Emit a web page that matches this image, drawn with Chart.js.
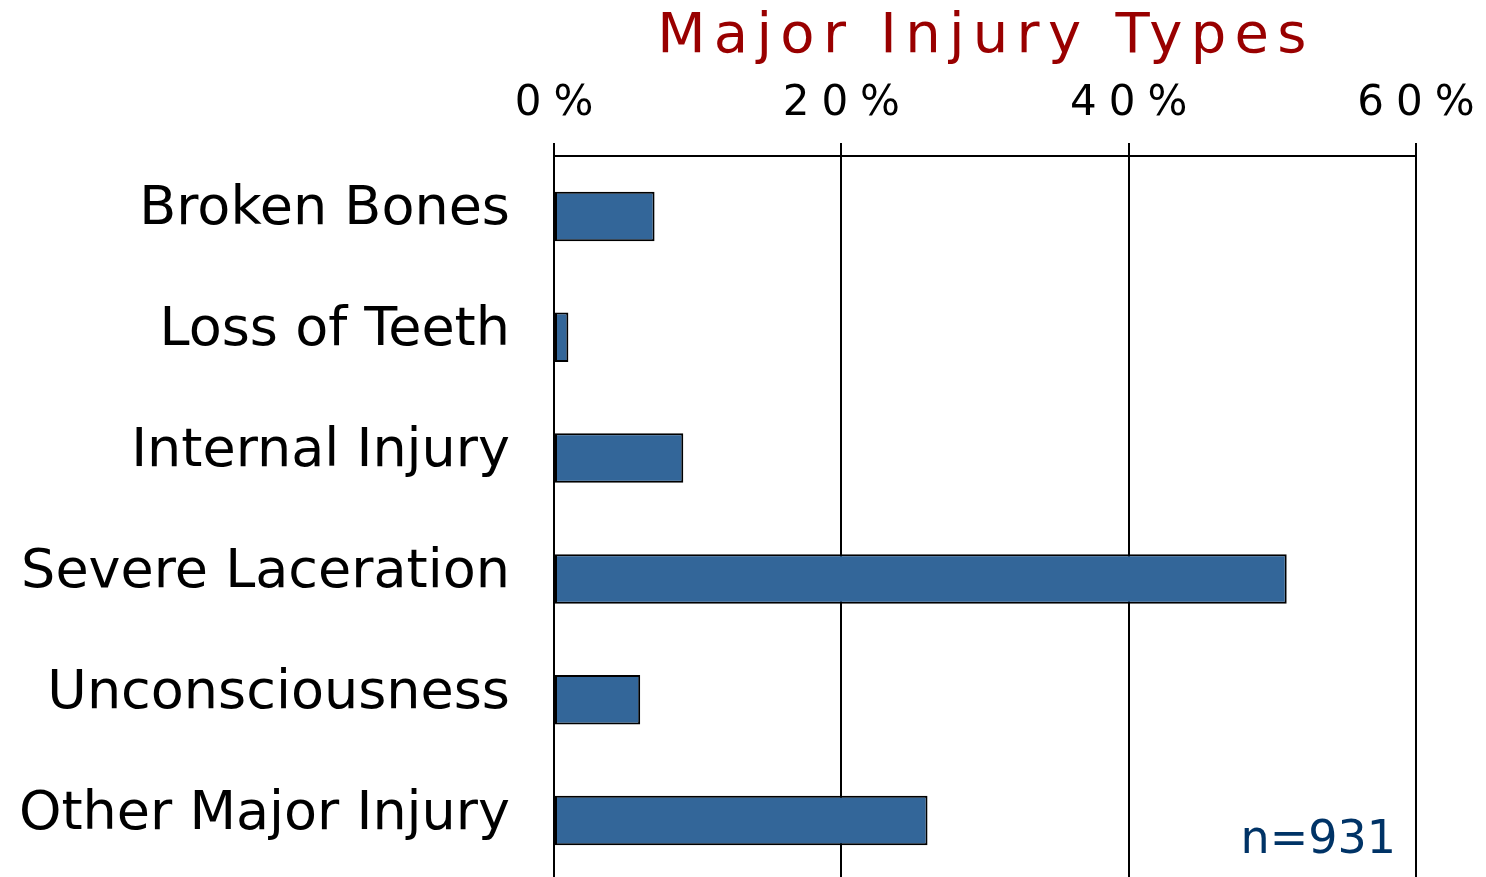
<!DOCTYPE html>
<html>
<head>
<meta charset="utf-8">
<title>Major Injury Types</title>
<script src="https://cdn.jsdelivr.net/npm/chart.js@4/dist/chart.umd.min.js"></script>
<style>
  html, body { margin: 0; padding: 0; background: #fff; overflow: hidden; }
  #wrap { position: relative; width: 1486px; height: 881px; }
</style>
</head>
<body>
<div id="wrap"><canvas id="injuries"></canvas></div>
<script>
const categories = ['Broken Bones', 'Loss of Teeth', 'Internal Injury', 'Severe Laceration', 'Unconsciousness', 'Other Major Injury'];
const percents = [7.0, 1.0, 9.0, 51.0, 6.0, 26.0];
const axisTicks = [0, 20, 40, 60];
const chartTitle = 'Major Injury Types';
const sampleNote = 'n=931';

const FONT = '"DejaVu Sans", Verdana, sans-serif';

// title, spaced tick labels and the sample size note
const overlayText = {
  id: 'overlayText',
  afterDraw(chart) {
    const ctx = chart.ctx;
    const area = chart.chartArea;
    const xs = chart.scales.x;
    ctx.save();

    ctx.font = '56px ' + FONT;
    ctx.fillStyle = '#990000';
    ctx.textAlign = 'center';
    ctx.textBaseline = 'alphabetic';
    ctx.letterSpacing = '8.3px';
    ctx.fillText(chartTitle, (area.left + area.right) / 2 + 1, 52);

    ctx.font = '42px ' + FONT;
    ctx.fillStyle = '#000';
    ctx.letterSpacing = '12px';
    xs.ticks.forEach(function(t, i) {
      ctx.fillText(t.value + '%', xs.getPixelForTick(i) + 6, 115);
    });

    ctx.letterSpacing = '0px';
    ctx.font = '46px ' + FONT;
    ctx.fillStyle = '#003366';
    ctx.textAlign = 'right';
    ctx.fillText(sampleNote, area.right - 20, 853);
    ctx.restore();
  }
};

new Chart(document.getElementById('injuries'), {
  type: 'bar',
  data: {
    labels: categories,
    datasets: [{
      data: percents,
      backgroundColor: '#336699',
      borderColor: '#000',
      borderWidth: 2,
      borderSkipped: false,
      barPercentage: 0.41,
      categoryPercentage: 1
    }]
  },
  options: {
    indexAxis: 'y',
    responsive: true,
    maintainAspectRatio: false,
    animation: false,
    layout: { padding: { left: 0, right: 70, top: 0, bottom: 0 } },
    plugins: {
      legend: { display: false },
      title: { display: false },
      tooltip: { enabled: false }
    },
    scales: {
      x: {
        position: 'top',
        min: 0,
        max: 60,
        afterBuildTicks: function(s) { s.ticks = axisTicks.map(function(v) { return { value: v }; }); },
        afterFit: function(s) { s.height = 156; s.paddingLeft = 0; s.paddingRight = 0; },
        ticks: {
          color: 'rgba(0,0,0,0)',
          font: { family: FONT, size: 40 },
          callback: function(v) { return v + '%'; }
        },
        grid: {
          color: '#000',
          lineWidth: 2,
          drawTicks: true,
          tickLength: 13
        },
        border: { display: true, color: '#000', width: 2 }
      },
      y: {
        afterFit: function(s) { s.width = 554; s.paddingTop = 0; s.paddingBottom = 0; },
        ticks: {
          color: '#000',
          padding: 44,
          labelOffset: -6,
          font: { family: FONT, size: 54 }
        },
        grid: { display: false, drawTicks: false },
        border: { display: false }
      }
    }
  },
  plugins: [overlayText]
});
</script>
</body>
</html>
